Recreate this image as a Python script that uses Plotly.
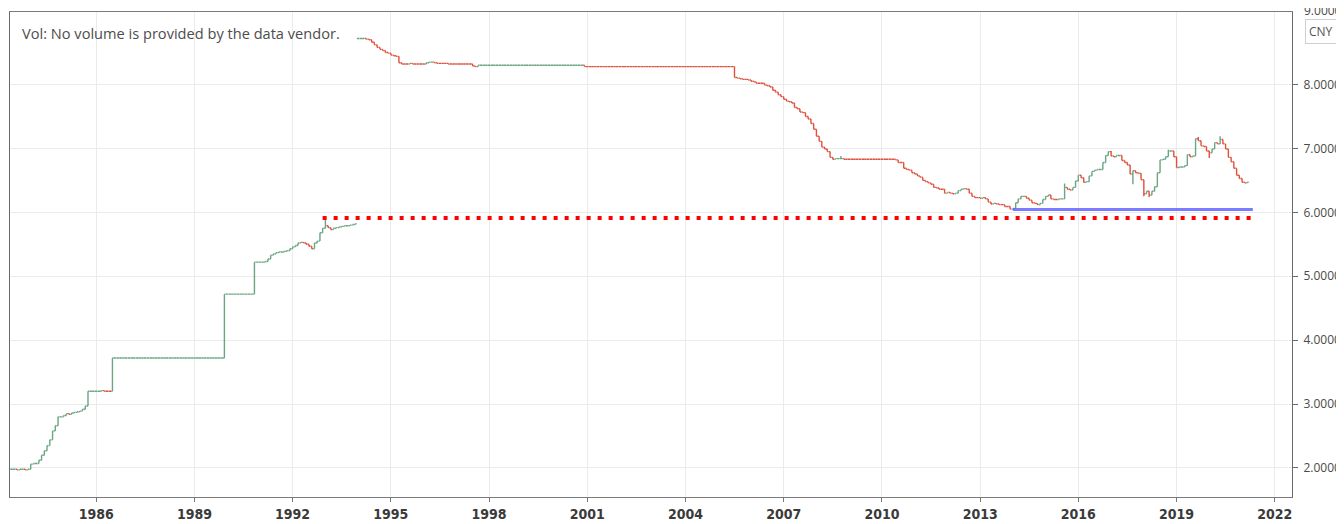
import pandas as pd
import plotly.graph_objects as go

# ---------------- data (monthly closes, USD/CNY) ----------------
FIRST_BAR = "1983-06-01"

CLOSE_1983_1993 = [
    1.98, 1.98, 1.97, 1.98, 1.98, 1.97, 1.98,                          # 1983 Jun-Dec
    2.06, 2.07, 2.07, 2.12, 2.20, 2.27, 2.35, 2.44, 2.58, 2.66, 2.80, 2.80,  # 1984
    2.82, 2.85, 2.84, 2.86, 2.87, 2.88, 2.89, 2.92, 2.97, 3.20, 3.20, 3.20,  # 1985
    3.20, 3.20, 3.21, 3.20, 3.20, 3.20, 3.72, 3.72, 3.72, 3.72, 3.72, 3.72,  # 1986
    3.72, 3.72, 3.72, 3.72, 3.72, 3.72, 3.72, 3.72, 3.72, 3.72, 3.72, 3.72,  # 1987
    3.72, 3.72, 3.72, 3.72, 3.72, 3.72, 3.72, 3.72, 3.72, 3.72, 3.72, 3.72,  # 1988
    3.72, 3.72, 3.72, 3.72, 3.72, 3.72, 3.72, 3.72, 3.72, 3.72, 3.72, 4.72,  # 1989
    4.72, 4.72, 4.72, 4.72, 4.72, 4.72, 4.72, 4.72, 4.72, 4.72, 5.22, 5.22,  # 1990
    5.22, 5.22, 5.23, 5.27, 5.33, 5.35, 5.37, 5.38, 5.38, 5.39, 5.40, 5.43,  # 1991
    5.46, 5.48, 5.52, 5.53, 5.52, 5.50, 5.47, 5.43, 5.52, 5.55, 5.68, 5.75,  # 1992
    5.79, 5.76, 5.73, 5.75, 5.76, 5.77, 5.78, 5.79, 5.79, 5.80, 5.81, 5.82,  # 1993
]

CLOSE_1994_2005 = [
    8.72, 8.72, 8.72, 8.71, 8.70, 8.66, 8.62, 8.58, 8.55, 8.53, 8.50, 8.49,  # 1994
    8.46, 8.45, 8.44, 8.34, 8.32, 8.32, 8.32, 8.33, 8.32, 8.32, 8.32, 8.32,  # 1995
    8.32, 8.34, 8.35, 8.35, 8.34, 8.33, 8.33, 8.33, 8.33, 8.32, 8.32, 8.32,  # 1996
    8.32, 8.32, 8.32, 8.32, 8.32, 8.32, 8.29, 8.28, 8.30, 8.30, 8.30, 8.30,  # 1997
    8.30, 8.30, 8.30, 8.30, 8.30, 8.30, 8.30, 8.30, 8.30, 8.30, 8.30, 8.30,  # 1998
    8.30, 8.30, 8.30, 8.30, 8.30, 8.30, 8.30, 8.30, 8.30, 8.30, 8.30, 8.30,  # 1999
    8.30, 8.30, 8.30, 8.30, 8.30, 8.30, 8.30, 8.30, 8.30, 8.30, 8.30, 8.28,  # 2000
    8.28, 8.28, 8.28, 8.28, 8.28, 8.28, 8.28, 8.28, 8.28, 8.28, 8.28, 8.28,  # 2001
    8.28, 8.28, 8.28, 8.28, 8.28, 8.28, 8.28, 8.28, 8.28, 8.28, 8.28, 8.28,  # 2002
    8.28, 8.28, 8.28, 8.28, 8.28, 8.28, 8.28, 8.28, 8.28, 8.28, 8.28, 8.28,  # 2003
    8.28, 8.28, 8.28, 8.28, 8.28, 8.28, 8.28, 8.28, 8.28, 8.28, 8.28, 8.28,  # 2004
    8.28, 8.28, 8.28, 8.28, 8.28, 8.28,                                      # 2005 Jan-Jun
]

CLOSE_2005_2021 = [
    8.11, 8.10, 8.09, 8.08, 8.08, 8.07,                                      # 2005 Jul-Dec
    8.05, 8.04, 8.02, 8.02, 8.02, 7.99, 7.98, 7.96, 7.91, 7.88, 7.84, 7.81,  # 2006
    7.77, 7.74, 7.73, 7.71, 7.64, 7.62, 7.57, 7.56, 7.50, 7.46, 7.39, 7.30,  # 2007
    7.19, 7.11, 7.02, 6.99, 6.95, 6.86, 6.83, 6.84, 6.84, 6.84, 6.83, 6.83,  # 2008
    6.83, 6.83, 6.83, 6.83, 6.83, 6.83, 6.83, 6.83, 6.83, 6.83, 6.83, 6.83,  # 2009
    6.83, 6.83, 6.83, 6.83, 6.83, 6.82, 6.78, 6.78, 6.69, 6.67, 6.66, 6.62,  # 2010
    6.60, 6.57, 6.55, 6.50, 6.48, 6.46, 6.44, 6.39, 6.38, 6.36, 6.36, 6.30,  # 2011
    6.31, 6.30, 6.29, 6.30, 6.34, 6.36, 6.37, 6.36, 6.30, 6.25, 6.23, 6.23,  # 2012
    6.22, 6.23, 6.21, 6.16, 6.13, 6.14, 6.13, 6.12, 6.12, 6.09, 6.09, 6.05,  # 2013
    6.06, 6.15, 6.21, 6.25, 6.25, 6.22, 6.19, 6.15, 6.14, 6.12, 6.14, 6.20,  # 2014
    6.25, 6.27, 6.21, 6.20, 6.20, 6.21, 6.21, 6.39, 6.36, 6.35, 6.39, 6.49,  # 2015
    6.58, 6.54, 6.47, 6.48, 6.57, 6.64, 6.66, 6.67, 6.67, 6.78, 6.89, 6.95,  # 2016
    6.88, 6.87, 6.89, 6.89, 6.81, 6.78, 6.74, 6.60, 6.65, 6.62, 6.61, 6.51,  # 2017
    6.29, 6.33, 6.27, 6.33, 6.40, 6.62, 6.82, 6.83, 6.87, 6.96, 6.96, 6.87,  # 2018
    6.70, 6.71, 6.71, 6.73, 6.90, 6.87, 6.88, 7.15, 7.12, 7.04, 7.03, 6.96,  # 2019
    6.93, 6.99, 7.09, 7.07, 7.14, 7.07, 6.99, 6.86, 6.79, 6.69, 6.58, 6.53,  # 2020
    6.47, 6.46, 6.47,                                                        # 2021 Jan-Mar
]

# opens that gap away from the previous close
GAP_OPEN = {"1994-01": 8.72}
# wicks that reach beyond the open/close of a bar
WICK_HIGH = {"1993-01": 5.91, "2008-10": 6.88, "2015-08": 6.45, "2017-01": 6.96,
             "2018-10": 6.98, "2019-09": 7.18, "2020-05": 7.19}
WICK_LOW = {"2014-01": 6.04, "2017-09": 6.44, "2018-01": 6.25, "2018-03": 6.24,
            "2020-01": 6.85}

# horizontal drawings
RESIST_LEVEL, RESIST_START = 5.91, "1992-12-01"
SUPPORT_LEVEL, SUPPORT_START = 6.045, "2014-01-01"
DRAWINGS_END = "2021-05-01"

PRICE_TICKS = [2, 3, 4, 5, 6, 7, 8]
TOP_PRICE_LABEL = "9.0000"
YEAR_TICKS = [1986, 1989, 1992, 1995, 1998, 2001, 2004, 2007, 2010, 2013, 2016, 2019, 2022]

# ---------------- build OHLC ----------------
closes = CLOSE_1983_1993 + CLOSE_1994_2005 + CLOSE_2005_2021
dates = pd.date_range(FIRST_BAR, periods=len(closes), freq="MS")
opens, highs, lows = [], [], []
prev = closes[0]
for d, c in zip(dates, closes):
    key = d.strftime("%Y-%m")
    o = GAP_OPEN.get(key, prev)
    opens.append(o)
    highs.append(max(o, c, WICK_HIGH.get(key, c)))
    lows.append(min(o, c, WICK_LOW.get(key, c)))
    prev = c

UP, DOWN = "#6ba583", "#e0513d"

fig = go.Figure()
fig.add_trace(go.Ohlc(
    x=dates, open=opens, high=highs, low=lows, close=closes,
    increasing=dict(line=dict(color=UP, width=1.4)),
    decreasing=dict(line=dict(color=DOWN, width=1.4)),
    tickwidth=0.5, showlegend=False, hoverinfo="skip",
))
fig.add_trace(go.Scatter(
    x=[SUPPORT_START, DRAWINGS_END], y=[SUPPORT_LEVEL, SUPPORT_LEVEL],
    mode="lines", line=dict(color="rgba(100,100,255,0.85)", width=3),
    showlegend=False, hoverinfo="skip",
))
fig.add_trace(go.Scatter(
    x=[RESIST_START, DRAWINGS_END], y=[RESIST_LEVEL, RESIST_LEVEL],
    mode="lines", line=dict(color="#ff0000", width=4, dash="4px,7px"),
    showlegend=False, hoverinfo="skip",
))

# The page body adds an 8px offset, so the figure is 8px smaller than the window.
fig.update_layout(
    width=1336, height=516,
    margin=dict(l=2, r=52, t=4, b=27, autoexpand=False),
    paper_bgcolor="white", plot_bgcolor="white",
    font=dict(family="Open Sans, Arial, sans-serif", color="#444"),
    xaxis=dict(
        type="date", range=["1983-05-15", "2022-07-12"],
        tickvals=[f"{y}-01-01" for y in YEAR_TICKS],
        ticktext=[str(y) for y in YEAR_TICKS],
        showgrid=True, gridcolor="#ebebeb", gridwidth=1,
        showline=True, linecolor="#7a7a7a", linewidth=1, mirror=True,
        ticks="outside", ticklen=4, tickcolor="#7a7a7a",
        tickfont=dict(family="Liberation Sans Narrow, DejaVu Sans Condensed, Arial Narrow, sans-serif",
                      size=14, color="#3a3a3a", weight="bold"),
        rangeslider=dict(visible=False), fixedrange=True, automargin=False,
    ),
    yaxis=dict(
        side="right", range=[1.546, 9.134],
        tickvals=PRICE_TICKS, ticktext=[f"{v:.4f}" for v in PRICE_TICKS],
        showgrid=True, gridcolor="#ebebeb", gridwidth=1, zeroline=False,
        showline=True, linecolor="#6a6a6a", linewidth=1, mirror=True,
        ticks="outside", ticklen=5, tickcolor="#6a6a6a", ticklabelstandoff=3,
        tickfont=dict(family="Open Sans, Arial, sans-serif", size=12, color="#4a4a4a"),
        fixedrange=True, automargin=False,
    ),
    annotations=[
        dict(text="Vol: No volume is provided by the data vendor.",
             xref="paper", yref="paper", x=0.0078, y=0.9567,
             xanchor="left", yanchor="middle", showarrow=False,
             font=dict(family="Open Sans, Arial, sans-serif", size=14.6, color="#4d4d4d")),
        dict(text=TOP_PRICE_LABEL, xref="paper", yref="paper", x=1.0, xshift=10,
             y=1.0, yshift=2, xanchor="left", yanchor="middle", showarrow=False,
             font=dict(family="Open Sans, Arial, sans-serif", size=12, color="#4a4a4a")),
        dict(text="CNY", xref="paper", yref="paper", x=1.0, xshift=13, y=0.9608,
             xanchor="left", yanchor="middle", showarrow=False,
             bgcolor="white", bordercolor="#cfcfcf", borderwidth=1, borderpad=3,
             font=dict(family="Open Sans, Arial, sans-serif", size=12, color="#555")),
    ],
)

fig.write_html("out.html")
